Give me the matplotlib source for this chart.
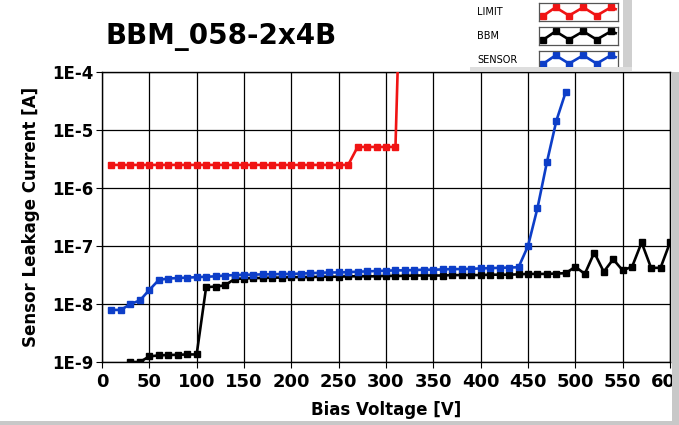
import matplotlib
matplotlib.use("Agg")
import matplotlib.pyplot as plt
from matplotlib.patches import Rectangle

# ---- data ----
limit_v = [10, 20, 30, 40, 50, 60, 70, 80, 90, 100, 110, 120, 130, 140, 150, 160,
           170, 180, 190, 200, 210, 220, 230, 240, 250, 260, 270, 280, 290, 300, 310, 314]
limit_i = [2.5e-6] * 26 + [5.1e-6] * 5 + [1e-3]

bbm_v = list(range(30, 601, 10))
bbm_i = [1.0e-9, 1.0e-9, 1.25e-9, 1.3e-9, 1.32e-9, 1.33e-9, 1.35e-9, 1.35e-9,
         1.95e-8, 2.0e-8, 2.1e-8, 2.7e-8, 2.75e-8, 2.8e-8, 2.8e-8, 2.85e-8, 2.85e-8,
         2.9e-8, 2.9e-8, 2.9e-8, 2.95e-8, 2.95e-8, 2.95e-8, 3.0e-8, 3.0e-8, 3.0e-8,
         3.0e-8, 3.05e-8, 3.05e-8, 3.05e-8, 3.1e-8, 3.1e-8, 3.1e-8, 3.1e-8, 3.15e-8,
         3.15e-8, 3.15e-8, 3.15e-8, 3.2e-8, 3.2e-8, 3.2e-8, 3.25e-8, 3.3e-8, 3.3e-8,
         3.3e-8, 3.35e-8, 3.4e-8, 4.4e-8, 3.3e-8, 7.7e-8, 3.6e-8, 5.9e-8, 3.8e-8,
         4.4e-8, 1.15e-7, 4.2e-8, 4.2e-8, 1.15e-7]

sensor_v = list(range(10, 491, 10))
sensor_i = [7.9e-9, 7.9e-9, 1.0e-8, 1.15e-8, 1.75e-8, 2.6e-8, 2.75e-8, 2.8e-8, 2.85e-8,
            2.9e-8, 2.95e-8, 3.0e-8, 3.1e-8, 3.15e-8, 3.2e-8, 3.2e-8, 3.25e-8, 3.25e-8,
            3.3e-8, 3.3e-8, 3.35e-8, 3.4e-8, 3.45e-8, 3.5e-8, 3.5e-8, 3.55e-8, 3.6e-8,
            3.65e-8, 3.7e-8, 3.75e-8, 3.8e-8, 3.8e-8, 3.85e-8, 3.9e-8, 3.9e-8, 3.95e-8,
            4.0e-8, 4.0e-8, 4.05e-8, 4.1e-8, 4.15e-8, 4.2e-8, 4.25e-8, 4.3e-8,
            1.0e-7, 4.5e-7, 2.8e-6, 1.45e-5, 4.6e-5]

x_ticks = list(range(0, 601, 50))
y_ticks = [1e-9, 1e-8, 1e-7, 1e-6, 1e-5, 1e-4]
y_tick_labels = ["1E-9", "1E-8", "1E-7", "1E-6", "1E-5", "1E-4"]

series = [("LIMIT", limit_v, limit_i, "#f01414"),
          ("BBM", bbm_v, bbm_i, "black"),
          ("SENSOR", sensor_v, sensor_i, "#0d3ec8")]

W, H = 679, 425
fig = plt.figure(figsize=(W / 100, H / 100), dpi=100)
fig.patch.set_facecolor("white")

def fx(px):
    return px / W

def fy(py):
    return 1 - py / H

ax = fig.add_axes([fx(102), fy(362), fx(670) - fx(102), fy(72) - fy(362)])

for name, v, i, c in series:
    ax.plot(v, i, color=c, linewidth=1.9, marker="s", markersize=4, zorder=3)

ax.set_yscale("log")
ax.set_xlim(0, 600)
ax.set_ylim(1e-9, 1e-4)
ax.set_xticks(x_ticks)
ax.set_xticklabels([str(t) for t in x_ticks], fontsize=13, fontweight="bold")
ax.set_yticks(y_ticks)
ax.set_yticklabels(y_tick_labels, fontsize=12, fontweight="bold")
ax.minorticks_off()
ax.tick_params(direction="out", length=4, width=0.8, pad=2)
ax.tick_params(axis="x", pad=4)
ax.grid(True, color="black", linewidth=0.9)
ax.set_axisbelow(True)
for s in ax.spines.values():
    s.set_linewidth(1.0)

ax.set_xlabel("Bias Voltage [V]", fontsize=12, fontweight="bold", labelpad=7)
ax.set_ylabel("Sensor Leakage Current [A]", fontsize=12, fontweight="bold", labelpad=9)

fig.text(fx(106), fy(37), "BBM_058-2x4B", fontsize=20, fontweight="bold",
         va="center", ha="left")

# ---- window frame bits ----
fig.patches.append(Rectangle((fx(672), 0), fx(679) - fx(672), fy(72),
                             transform=fig.transFigure, facecolor="#c8c8c8",
                             edgecolor="none", zorder=5))
fig.patches.append(Rectangle((0, 0), 1, 4 / H, transform=fig.transFigure,
                             facecolor="#c8c8c8", edgecolor="none", zorder=5))

# ---- legend panel ----
fig.patches.append(Rectangle((fx(623), fy(70)), fx(632) - fx(623), fy(0) - fy(70),
                             transform=fig.transFigure, facecolor="#cfcfcf",
                             edgecolor="none", zorder=1))
fig.patches.append(Rectangle((fx(470), fy(71)), fx(632) - fx(470), 4 / H,
                             transform=fig.transFigure, facecolor="#dedede",
                             edgecolor="none", zorder=1))

zig_x = [0.05, 0.21, 0.38, 0.56, 0.73, 0.91, 0.97]
zig_y = [0.28, 0.76, 0.3, 0.76, 0.3, 0.76, 0.66]
box_tops = [3, 27, 51]
for (name, v, i, c), top in zip(series, box_tops):
    sw = fig.add_axes([fx(539), fy(top + 18), fx(618) - fx(539), 18 / H])
    sw.plot(zig_x, zig_y, color=c, linewidth=1.9)
    sw.plot(zig_x[:-1], zig_y[:-1], color=c, linestyle="none", marker="s", markersize=4)
    sw.set_xlim(0, 1)
    sw.set_ylim(0, 1)
    sw.set_xticks([])
    sw.set_yticks([])
    for s in sw.spines.values():
        s.set_color("#555555")
        s.set_linewidth(0.9)
    fig.text(fx(477), fy(top + 9), name, fontsize=7, va="center", ha="left")

fig.savefig("out.png", dpi=100)
